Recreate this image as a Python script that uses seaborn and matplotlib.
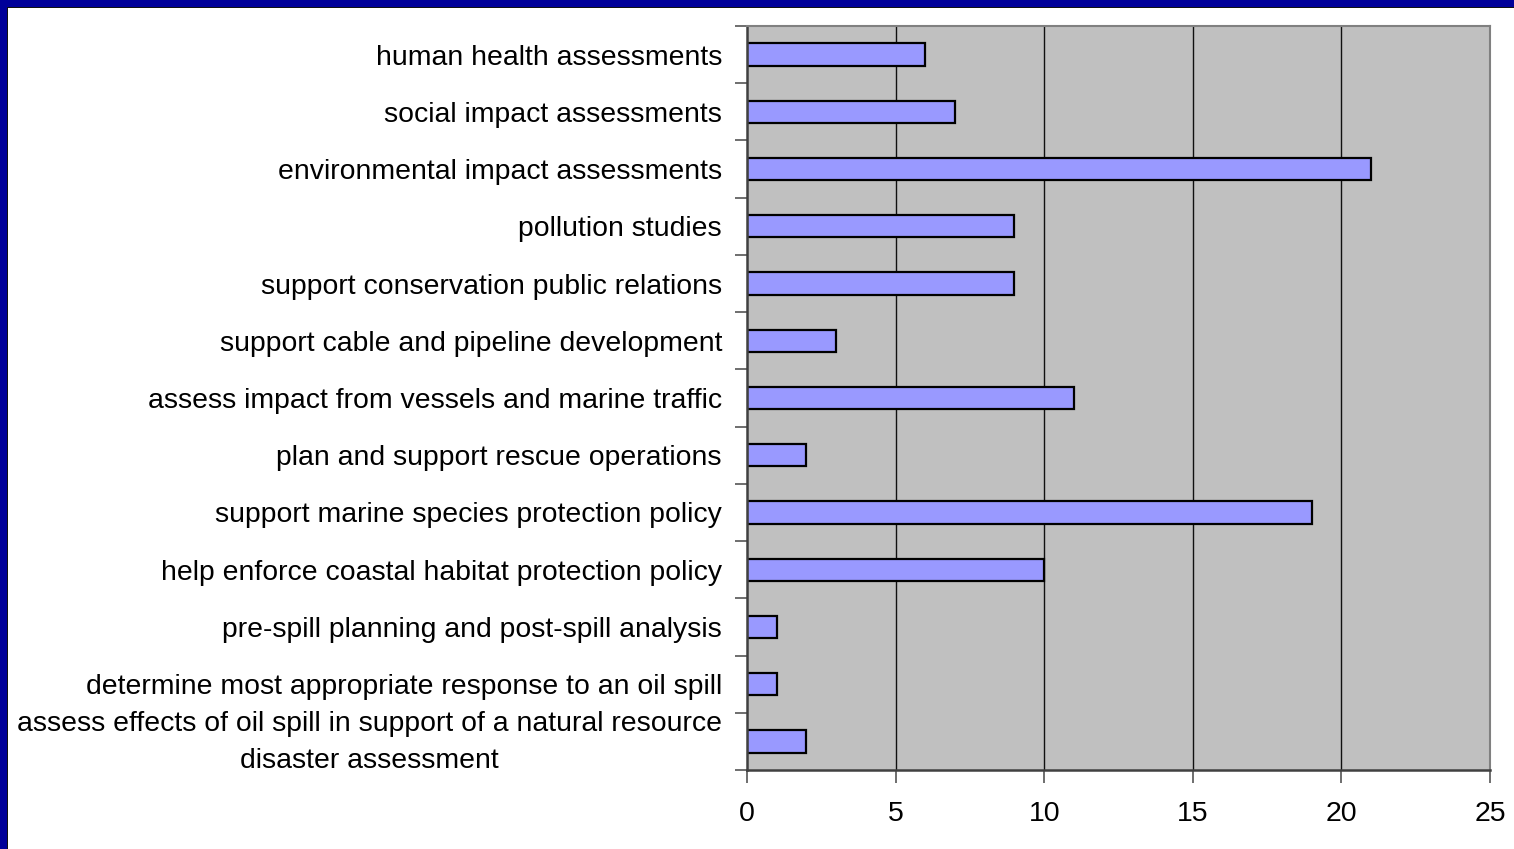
import matplotlib
matplotlib.use("Agg")
import matplotlib.pyplot as plt
import matplotlib.patches as mpatches
from matplotlib.transforms import ScaledTranslation
import seaborn as sns
import pandas as pd
import numpy as np

categories = [
    "human health assessments",
    "social impact assessments",
    "environmental impact assessments",
    "pollution studies",
    "support conservation public relations",
    "support cable and pipeline development",
    "assess impact from vessels and marine traffic",
    "plan and support rescue operations",
    "support marine species protection policy",
    "help enforce coastal habitat protection policy",
    "pre-spill planning and post-spill analysis",
    "determine most appropriate response to an oil spill",
    "assess effects of oil spill in support of a natural resource\ndisaster assessment",
]
values = [6, 7, 21, 9, 9, 3, 11, 2, 19, 10, 1, 1, 2]
x_ticks = [0, 5, 10, 15, 20, 25]

df = pd.DataFrame({"category": categories, "value": values})

sns.set_theme(style="white")
plt.rcParams['font.family'] = ['Liberation Sans', 'DejaVu Sans']

fig = plt.figure(figsize=(15.14, 8.49), dpi=100)
fig.patch.set_facecolor("white")
ax = fig.add_axes([747/1514, 1 - 770/849, (1490-747)/1514, (770-26)/849])
ax.set_facecolor("#C0C0C0")

sns.barplot(data=df, x="value", y="category", orient="h", ax=ax,
            color="#9999FF", edgecolor="black", linewidth=1.6,
            width=0.39, saturation=1)

ax.set_xlim(0, 25)
ax.set_ylim(len(categories) - 0.5, -0.5)
ax.set_xticks(x_ticks)
ax.set_xticklabels([str(t) for t in x_ticks], fontsize=20.5, color="black")
ax.set_xlabel("")
ax.set_ylabel("")

for t in x_ticks[1:-1]:
    ax.axvline(t, color="#101010", lw=1.0, zorder=0.5)

ax.set_yticks(range(len(categories)))
ax.set_yticklabels(categories, fontsize=20.4, color="black")
ax.tick_params(axis="y", which="major", length=0, pad=18)
for lbl in ax.get_yticklabels():
    lbl.set_multialignment("center")
    lbl.set_linespacing(1.55)
last = ax.get_yticklabels()[-1]
last.set_transform(last.get_transform() + ScaledTranslation(0, 7/100, fig.dpi_scale_trans))
ax.set_yticks(np.arange(-0.5, len(categories) + 0.5, 1), minor=True)
ax.tick_params(axis="y", which="minor", length=9, width=1.2, color="#555555", direction="out", left=True)
ax.tick_params(axis="x", which="major", length=9, width=1.2, color="#555555", direction="out", bottom=True, pad=13)

for side in ["top", "right"]:
    ax.spines[side].set_color("#808080")
    ax.spines[side].set_linewidth(1.5)
for side in ["left", "bottom"]:
    ax.spines[side].set_color("#404040")
    ax.spines[side].set_linewidth(1.8)

# dark blue frame on top and left, with thin black inner edge
fig.patches.append(mpatches.Rectangle((0, 1 - 8/849), 1, 8/849, transform=fig.transFigure,
                                      facecolor="#111111", edgecolor="none", zorder=10))
fig.patches.append(mpatches.Rectangle((0, 0), 8/1514, 1, transform=fig.transFigure,
                                      facecolor="#111111", edgecolor="none", zorder=10))
fig.patches.append(mpatches.Rectangle((0, 1 - 7/849), 1, 7/849, transform=fig.transFigure,
                                      facecolor="#000099", edgecolor="none", zorder=11))
fig.patches.append(mpatches.Rectangle((0, 0), 7/1514, 1, transform=fig.transFigure,
                                      facecolor="#000099", edgecolor="none", zorder=11))

fig.savefig("out.png", dpi=100, facecolor="white")
